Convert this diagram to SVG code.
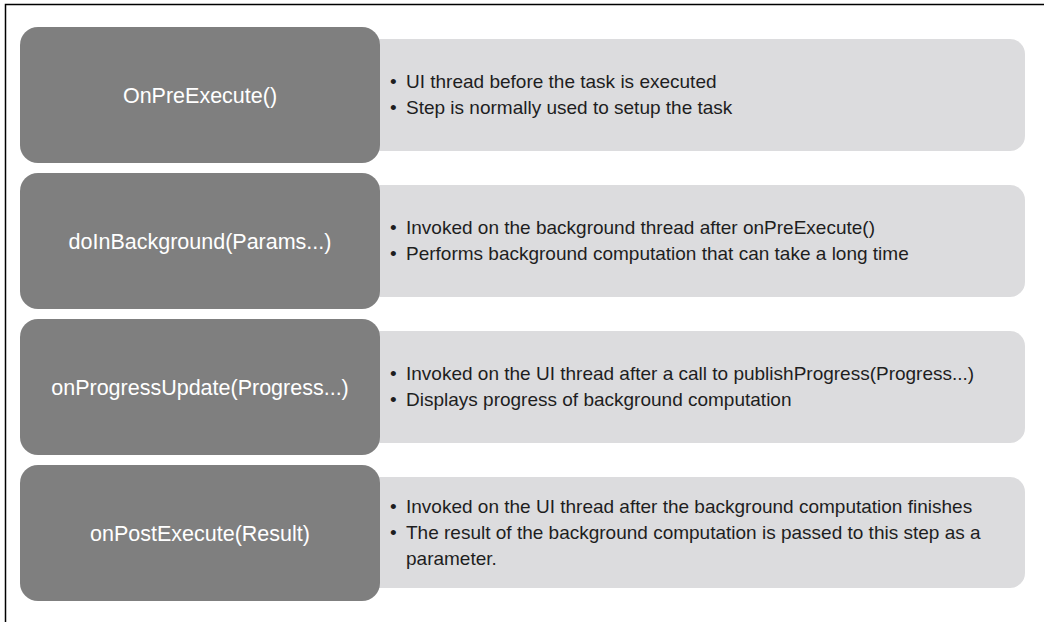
<svg xmlns="http://www.w3.org/2000/svg" width="1044" height="622" viewBox="0 0 1044 622">
<style>
.dark{fill:#7f7f7f}
.light{fill:#dcdcde}
.lbl{font-family:"Liberation Sans",Arial,sans-serif;font-size:21.5px;fill:#ffffff;text-anchor:middle}
.txt{font-family:"Liberation Sans",Arial,sans-serif;font-size:19px;fill:#1e1e1e}
</style>
<rect x="0" y="0" width="1044" height="622" fill="#ffffff"/>
<path d="M5.5 622 V4.5 H1044" fill="none" stroke="#000" stroke-width="1.5"/>
<g id="connectors"></g>
<g id="step1">
<rect class="light" x="360" y="39" width="665" height="112" rx="15"/>
<rect class="dark" x="20" y="27" width="360" height="136" rx="18"/>
<text class="lbl" x="200" y="103">OnPreExecute()</text>
<text class="txt" x="390" y="88">•</text><text class="txt" x="406" y="88">UI thread before the task is executed</text>
<text class="txt" x="390" y="114">•</text><text class="txt" x="406" y="114">Step is normally used to setup the task</text>
</g>
<g id="step2">
<rect class="light" x="360" y="185" width="665" height="112" rx="15"/>
<rect class="dark" x="20" y="173" width="360" height="136" rx="18"/>
<text class="lbl" x="200" y="249">doInBackground(Params...)</text>
<text class="txt" x="390" y="234">•</text><text class="txt" x="406" y="234">Invoked on the background thread after onPreExecute()</text>
<text class="txt" x="390" y="260">•</text><text class="txt" x="406" y="260">Performs background computation that can take a long time</text>
</g>
<g id="step3">
<rect class="light" x="360" y="331" width="665" height="112" rx="15"/>
<rect class="dark" x="20" y="319" width="360" height="136" rx="18"/>
<text class="lbl" x="200" y="395">onProgressUpdate(Progress...)</text>
<text class="txt" x="390" y="380">•</text><text class="txt" x="406" y="380">Invoked on the UI thread after a call to publishProgress(Progress...)</text>
<text class="txt" x="390" y="406">•</text><text class="txt" x="406" y="406">Displays progress of background computation</text>
</g>
<g id="step4">
<rect class="light" x="360" y="477" width="665" height="111" rx="15"/>
<rect class="dark" x="20" y="465" width="360" height="136" rx="18"/>
<text class="lbl" x="200" y="541">onPostExecute(Result)</text>
<text class="txt" x="390" y="513">•</text><text class="txt" x="406" y="513">Invoked on the UI thread after the background computation finishes</text>
<text class="txt" x="390" y="539">•</text><text class="txt" x="406" y="539">The result of the background computation is passed to this step as a</text>
<text class="txt" x="406" y="565">parameter.</text>
</g>
</svg>
